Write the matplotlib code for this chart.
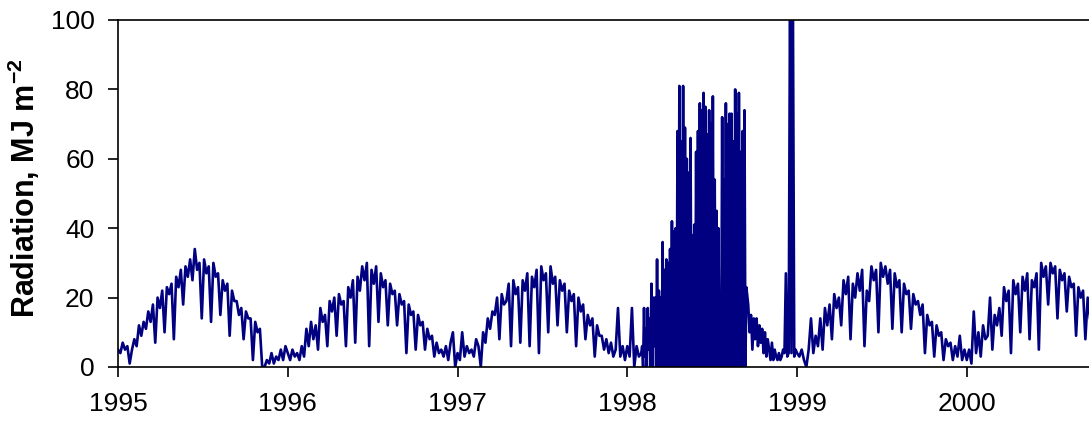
import numpy as np
import matplotlib.pyplot as plt

plt.rcParams['font.family'] = ['Liberation Sans', 'DejaVu Sans']
plt.rcParams['mathtext.fontset'] = 'custom'
plt.rcParams['mathtext.rm'] = 'Liberation Sans'
plt.rcParams['mathtext.bf'] = 'Liberation Sans:bold'
plt.rcParams['mathtext.default'] = 'bf'

# radiation (MJ m-2)
# normal years: one value every 5 days from 1 Jan
rad_1995 = [5, 4, 7, 5, 6, 1, 5, 8, 6, 12, 9, 13,
            11, 16, 13, 18, 7, 20, 17, 22, 10, 23,
            21, 24, 8, 26, 23, 28, 18, 29, 26, 31,
            25, 34, 28, 30, 14, 31, 27, 29, 13, 30,
            26, 27, 15, 25, 22, 24, 9, 22, 19, 19,
            15, 17, 8, 16, 14, 14, 2, 13, 10, 11,
            0, 0, 2, 1, 4, 1, 3, 2, 5, 2, 6]
rad_1996 = [4, 2, 5, 3, 4, 2, 6, 3, 11, 6, 13, 8,
            12, 5, 17, 13, 15, 6, 19, 16, 20, 9,
            21, 18, 19, 6, 23, 20, 25, 7, 26, 22,
            29, 25, 30, 6, 28, 24, 29, 13, 27, 23,
            25, 12, 24, 21, 22, 12, 21, 18, 19, 4,
            18, 15, 16, 5, 15, 12, 13, 5, 11, 8,
            9, 3, 7, 4, 5, 3, 6, 2, 7, 10, 0]
rad_1997 = [4, 2, 10, 3, 6, 4, 5, 3, 8, 6, 0, 10,
            7, 14, 11, 16, 15, 20, 8, 21, 18, 19,
            24, 6, 25, 21, 23, 7, 25, 22, 27, 6,
            26, 23, 28, 4, 29, 25, 27, 10, 29, 24,
            26, 12, 25, 22, 24, 10, 22, 19, 21, 6,
            20, 16, 18, 8, 15, 12, 14, 3, 12, 9,
            9, 5, 8, 4, 7, 3, 5, 17, 3, 6, 2]
rad_1998_jan = [6, 3, 17, 0, 6, 3]

# 1998 sensor fault: lows and highs every 4 days from day 30 (highs 2 days later)
rad_1998_low = [4, 0, 3, 0, 5, 0, 0, 6, 0, 0, 0, 0,
                0, 0, 0, 0, 0, 0, 0, 0, 0, 0, 0, 0,
                0, 0, 0, 0, 0, 0, 0, 0, 0, 0, 0, 0,
                0, 0, 0, 0, 0, 0, 0, 0, 0, 0, 0, 0,
                0, 0, 0, 0, 0, 0, 0, 0, 0]
rad_1998_high = [6, 17, 11, 17, 14, 24, 20, 20, 31, 22, 20, 36,
                 28, 31, 30, 34, 42, 39, 40, 68, 81, 65, 81, 69,
                 60, 56, 66, 38, 41, 62, 68, 76, 74, 79, 75, 67,
                 74, 70, 78, 54, 45, 40, 16, 72, 54, 76, 70, 73,
                 73, 65, 80, 73, 79, 62, 68, 74, 23]

# autumn 1998: one value every 3 days from day 260
rad_1998_aut = [18, 10, 15, 5, 14, 8, 14, 6, 12, 7, 11, 4,
                10, 3, 8, 5, 2, 7, 2, 5, 3, 2, 4, 2,
                3, 5, 4, 27, 3, 4, 110, 4, 110, 3, 5]

rad_1999 = [4, 3, 5, 2, 0, 5, 14, 4, 9, 6, 14, 5,
            17, 12, 18, 8, 21, 17, 20, 12, 25, 21,
            26, 8, 24, 20, 27, 22, 28, 6, 22, 19,
            29, 25, 28, 10, 30, 26, 29, 24, 28, 11,
            27, 23, 25, 10, 24, 21, 22, 11, 21, 18,
            19, 15, 18, 4, 15, 12, 13, 3, 12, 9,
            10, 2, 8, 6, 7, 2, 6, 3, 9, 2, 5]
rad_2000 = [2, 5, 1, 16, 4, 10, 3, 12, 8, 9, 20, 5,
            15, 12, 17, 9, 23, 19, 22, 4, 25, 21,
            24, 10, 26, 22, 27, 8, 25, 23, 27, 5,
            30, 26, 29, 18, 30, 27, 29, 14, 28, 25,
            27, 16, 26, 23, 24, 9, 23, 20, 22, 8,
            20, 14]


def segment(year, first_day, step, values):
    days = first_day + step * np.arange(len(values))
    return year + days / 365.0, np.array(values, dtype=float)


fault_days = np.column_stack([30 + 4 * np.arange(len(rad_1998_low)),
                              32 + 4 * np.arange(len(rad_1998_high))]).ravel()
fault_vals = np.column_stack([rad_1998_low, rad_1998_high]).ravel()

parts = [segment(1995, 0, 5, rad_1995),
         segment(1996, 0, 5, rad_1996),
         segment(1997, 0, 5, rad_1997),
         segment(1998, 0, 5, rad_1998_jan),
         (1998 + fault_days / 365.0, fault_vals.astype(float)),
         segment(1998, 260, 3, rad_1998_aut),
         segment(1999, 0, 5, rad_1999),
         segment(2000, 0, 5, rad_2000)]
x = np.concatenate([p[0] for p in parts])
y = np.concatenate([p[1] for p in parts])

fig = plt.figure(figsize=(10.89, 4.21), dpi=100)
ax = fig.add_axes([0.1084, 0.1283, 0.8916, 0.8242])
ax.plot(x, y, color='#000080', lw=1.9)

ax.set_xlim(1995, 2000.72)
ax.set_ylim(0, 100)
ax.set_xticks([1995, 1996, 1997, 1998, 1999, 2000])
ax.set_yticks([0, 20, 40, 60, 80, 100])
ax.tick_params(axis='x', direction='out', length=7, width=1.2, pad=11, labelsize=19)
ax.tick_params(axis='y', direction='out', length=7, width=1.2, pad=10, labelsize=19)
for side in ['left', 'bottom', 'top']:
    ax.spines[side].set_linewidth(1.2)
ax.spines['right'].set_visible(False)

ax.set_ylabel('Radiation, MJ m$^{-2}$', fontsize=22, fontweight='bold')
ax.yaxis.set_label_coords(-0.078, 0.515)

fig.savefig('out.png', dpi=100)
